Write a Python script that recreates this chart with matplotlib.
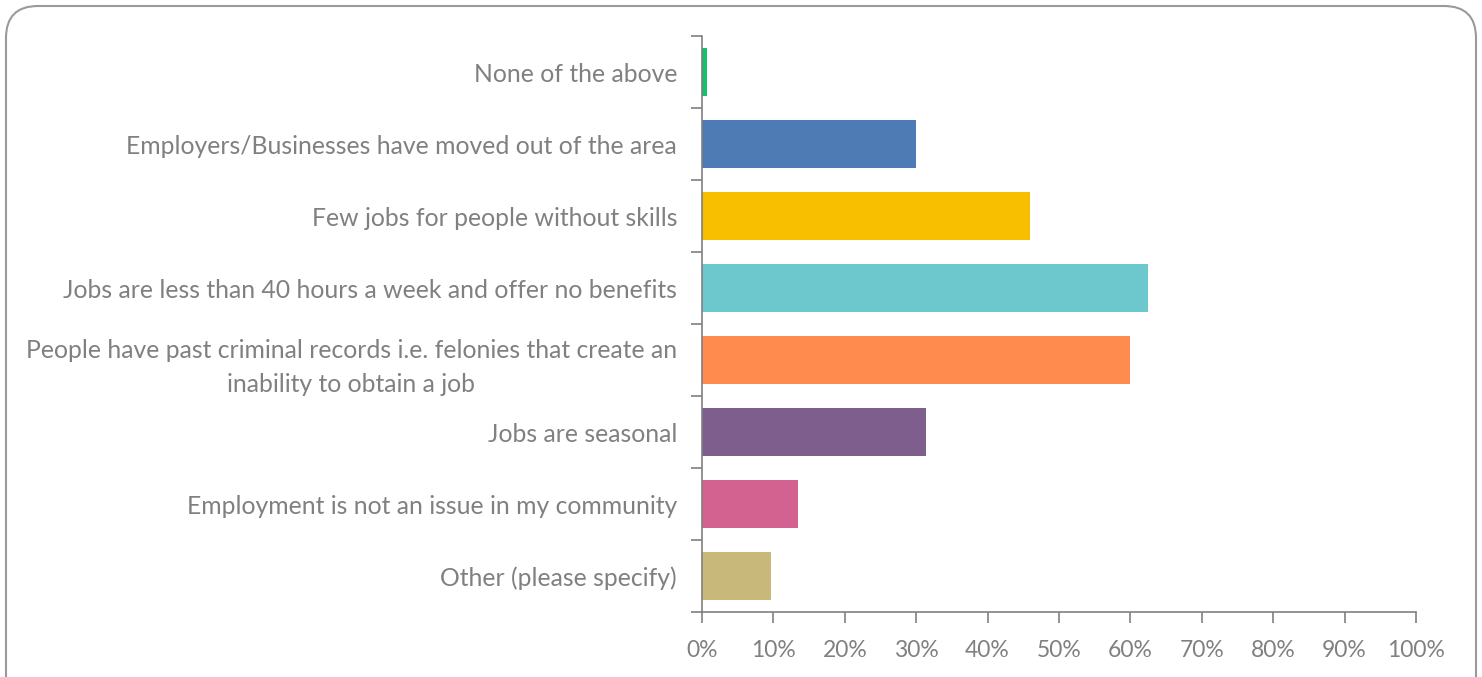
import matplotlib.pyplot as plt
from matplotlib.patches import FancyBboxPatch
from matplotlib.ticker import FixedLocator, PercentFormatter
import numpy as np

categories = [
    "None of the above",
    "Employers/Businesses have moved out of the area",
    "Few jobs for people without skills",
    "Jobs are less than 40 hours a week and offer no benefits",
    "People have past criminal records i.e. felonies that create an\ninability to obtain a job",
    "Jobs are seasonal",
    "Employment is not an issue in my community",
    "Other (please specify)",
]
values = [0.7, 30.0, 45.9, 62.5, 59.9, 31.4, 13.4, 9.7]
colors = ["#13C06E", "#4F7BB4", "#F8BE00", "#6CC8CC", "#FF8B4F", "#7D5E8D", "#D46291", "#C8B87A"]

grey = "#808080"
plt.rcParams['font.family'] = ['Lato', 'DejaVu Sans']

fig = plt.figure(figsize=(14.82, 6.77), dpi=100)

# rounded frame drawn in pixel coords
bg = fig.add_axes([0, 0, 1, 1], zorder=-1)
bg.set_xlim(0, 1482)
bg.set_ylim(0, 677)
bg.axis('off')
bg.add_patch(FancyBboxPatch((6, -30), 1470, 701, boxstyle="round,pad=0,rounding_size=32",
                            fc="white", ec="#9A9A9A", lw=1.5))

ax = fig.add_axes([702 / 1482, 1 - 612 / 677, 714 / 1482, 576 / 677])
y = np.arange(len(categories))
ax.barh(y, values, height=0.68, color=colors)
ax.set_ylim(len(categories) - 0.5, -0.5)
ax.set_xlim(0, 100)

ax.set_yticks(y)
ax.set_yticklabels(categories, fontsize=17.8, color=grey, multialignment='center',
                   linespacing=1.6)
ax.yaxis.set_minor_locator(FixedLocator(np.arange(-0.5, len(categories), 1)))
ax.tick_params(axis='y', which='major', length=0, pad=18)
ax.tick_params(axis='y', which='minor', length=8, color=grey, width=1.2)

ax.set_xticks(np.arange(0, 101, 10))
ax.xaxis.set_major_formatter(PercentFormatter(decimals=0))
ax.tick_params(axis='x', length=8, color=grey, width=1.2, labelsize=16.5, labelcolor=grey, pad=12)

for s in ['top', 'right']:
    ax.spines[s].set_visible(False)
for s in ['left', 'bottom']:
    ax.spines[s].set_color(grey)
    ax.spines[s].set_linewidth(1.2)

fig.savefig("out.png", dpi=100)
